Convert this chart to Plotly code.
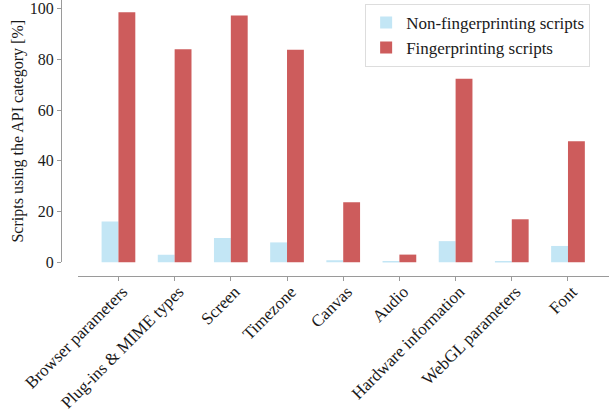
import plotly.graph_objects as go

categories = ["Browser parameters", "Plug-ins & MIME types", "Screen", "Timezone",
              "Canvas", "Audio", "Hardware information", "WebGL parameters", "Font"]
non_fp = [16.1, 3.0, 9.6, 7.9, 0.9, 0.3, 8.4, 0.4, 6.5]
fp = [98.5, 83.9, 97.2, 83.7, 23.7, 3.1, 72.3, 17.0, 47.7]

FONT = "Times New Roman"
AX = "#9a9a9a"

fig = go.Figure()
fig.add_trace(go.Bar(x=categories, y=non_fp, name="Non-fingerprinting scripts",
                     marker=dict(color="#c3e6f5", line=dict(width=0))))
fig.add_trace(go.Bar(x=categories, y=fp, name="Fingerprinting scripts",
                     marker=dict(color="#cd5c5c", line=dict(width=0))))

fig.update_layout(
    width=609, height=411,
    margin=dict(l=61, r=0, t=0, b=135, autoexpand=False),
    paper_bgcolor="white", plot_bgcolor="white",
    barmode="group", bargap=0.4, bargroupgap=0,
    font=dict(family=FONT, size=16, color="#1a1a1a"),
    xaxis=dict(domain=[0.031, 1], range=[-0.72, 8.73], anchor="free", position=0,
               automargin=False, ticklabeloverflow="allow",
               ticklabelstandoff=-6, ticklabelshift=4,
               showline=True, linecolor=AX, linewidth=1.3, showgrid=False, zeroline=False,
               ticks="outside", ticklen=4, tickcolor=AX, tickwidth=1,
               tickangle=-45, tickfont=dict(family=FONT, size=17)),
    yaxis=dict(domain=[0.049, 1], range=[0, 103.3], anchor="free", position=0,
               automargin=False, ticklabeloverflow="allow",
               showline=True, linecolor=AX, linewidth=1.3, showgrid=False, zeroline=False,
               ticks="outside", ticklen=4, tickcolor=AX, tickwidth=1,
               tickvals=[0, 20, 40, 60, 80, 100], tickfont=dict(family=FONT, size=16),
               title=dict(text="Scripts using the API category [%]",
                          font=dict(family=FONT, size=16), standoff=1)),
    legend=dict(x=0.555, y=0.986, xanchor="left", yanchor="top",
                bgcolor="white", bordercolor="#dddddd", borderwidth=1,
                font=dict(family=FONT, size=17), tracegroupgap=0),
    showlegend=True,
)

fig.write_html("out.html", config={"displayModeBar": False},
               post_script="document.body.style.margin='0';")
